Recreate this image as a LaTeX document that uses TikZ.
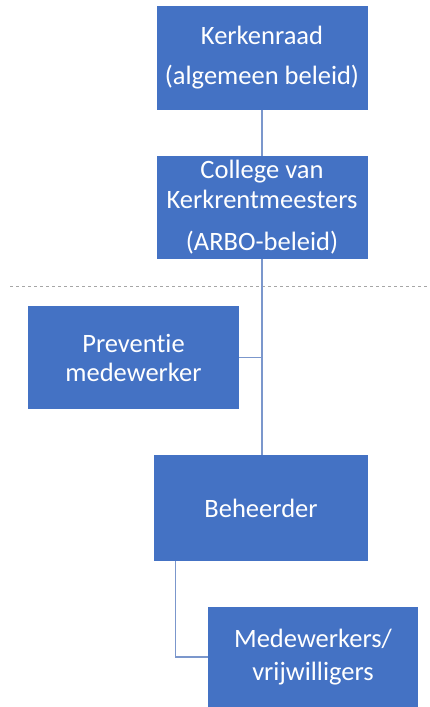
\documentclass[tikz,border=0pt]{standalone}
\usepackage{fontspec}
\setmainfont{Carlito}[Ligatures={NoCommon}]
\usetikzlibrary{calc}
\definecolor{boxblue}{HTML}{4472C4}
\definecolor{linkblue}{HTML}{7B97CC}
\definecolor{rulegray}{HTML}{A6A6A6}
\tikzset{unit/.style={fill=boxblue,text=white,minimum width=211pt,minimum height=104pt,inner sep=0pt,align=center,font=\fontsize{26.5}{29}\selectfont},
link/.style={draw=linkblue,line width=1.3pt},
split/.style={rulegray,dashed,line width=.8pt}}

\begin{document}
\begin{tikzpicture}[x=1pt,y=1pt]
\useasboundingbox (0,0) rectangle (429,-707);
\node[unit] (raad) at (262,-58) {Kerkenraad\\[11pt](algemeen beleid)};
\node[unit,minimum height=103pt] (college) at (262,-207.5) {College van\\[1pt]Kerkrentmeesters\\[13pt](ARBO-beleid)};
\draw[split] (10,-286) -- (429,-286);
\node[unit,minimum height=103pt] (preventie) at (133.5,-357.5) {Preventie\\medewerker};
\node[unit,minimum width=214pt,minimum height=106pt] (beheerder) at (261,-508) {Beheerder};
\node[unit,minimum width=210pt,minimum height=100pt] (vrijw) at (313,-657) {Medewerkers/\\[4pt]vrijwilligers};
\draw[link] (raad) -- (college);
\draw[link] (college.south) -- (beheerder.north -| college.south);
\draw[link] (preventie.east) -- (preventie.east -| college.south);
\coordinate (tak) at ($(beheerder.south west)+(22,0)$);
\draw[link] (tak) |- (vrijw.west);
\end{tikzpicture}
\end{document}
